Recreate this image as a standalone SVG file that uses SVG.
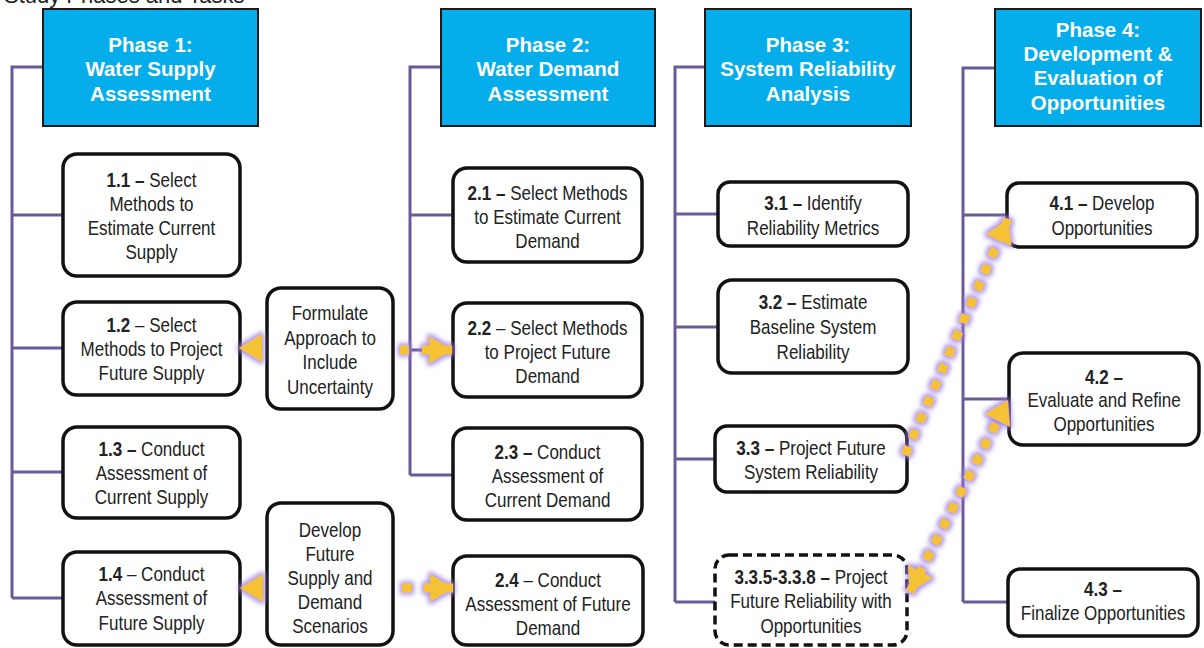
<svg xmlns="http://www.w3.org/2000/svg" width="1204" height="648" viewBox="0 0 1204 648">
<style>
.title{font-family:"Liberation Sans",Arial,sans-serif;font-size:22px;fill:#222}
.hdr rect{fill:#05AEEA;stroke:#1a1a1a;stroke-width:2}
.hdr text{font-family:"Liberation Sans",Arial,sans-serif;font-size:20.5px;font-weight:bold;fill:#fff;text-anchor:middle}
.task rect{fill:#fff;stroke:#111;stroke-width:3.5}
.task rect.dash{stroke-dasharray:9 5}
.task text{font-family:"Liberation Sans",Arial,sans-serif;font-size:20.5px;fill:#222;text-anchor:middle}
.task tspan.b{font-weight:bold}
.conn path{fill:none;stroke:#6A5A9A;stroke-width:3}
.flow path{fill:none;stroke:#F6C235;stroke-width:9;stroke-dasharray:9 9}
</style>
<defs>
<filter id="glow" x="-50%" y="-50%" width="200%" height="200%">
<feMorphology in="SourceAlpha" operator="dilate" radius="2" result="d"/>
<feGaussianBlur in="d" stdDeviation="2.5" result="bl"/>
<feFlood flood-color="#9A7BE0" flood-opacity="0.85"/>
<feComposite in2="bl" operator="in" result="g"/>
<feMerge><feMergeNode in="g"/><feMergeNode in="SourceGraphic"/></feMerge>
</filter>
<marker id="ah" markerUnits="userSpaceOnUse" markerWidth="30" markerHeight="32" viewBox="0 -16 24 32" refX="23" refY="0" orient="auto-start-reverse">
<path d="M0,-14 L23,0 L0,14 Z" fill="#F6C235"/>
</marker>
</defs>
<text class="title" x="4" y="3">Study Phases and Tasks</text>

<g id="connectors" class="conn">
<path d="M43,67 H12 V598 M12,215 H63 M12,348 H63 M12,472 H63 M12,598 H63"/>
<path d="M441,67 H410 V475 M410,215 H453 M410,350 H453 M410,475 H453"/>
<path d="M704,67 H675 V602 M675,214 H718 M675,327 H718 M675,459 H715 M675,602 H715"/>
<path d="M995,68 H963 V602 M963,215 H1007 M963,399 H1009 M963,602 H1008"/>
</g>

<g id="phase1" class="hdr"><rect x="43" y="9" width="215" height="117"/>
<text><tspan x="150.5" y="52">Phase 1:</tspan><tspan x="150.5" y="76">Water Supply</tspan><tspan x="150.5" y="101">Assessment</tspan></text></g>
<g id="phase2" class="hdr"><rect x="441" y="9" width="214" height="117"/>
<text><tspan x="548" y="52">Phase 2:</tspan><tspan x="548" y="76">Water Demand</tspan><tspan x="548" y="101">Assessment</tspan></text></g>
<g id="phase3" class="hdr"><rect x="705" y="9" width="206" height="117"/>
<text><tspan x="808" y="52">Phase 3:</tspan><tspan x="808" y="76">System Reliability</tspan><tspan x="808" y="101">Analysis</tspan></text></g>
<g id="phase4" class="hdr"><rect x="995" y="9" width="206" height="117"/>
<text><tspan x="1098" y="37">Phase 4:</tspan><tspan x="1098" y="61">Development &amp;</tspan><tspan x="1098" y="85">Evaluation of</tspan><tspan x="1098" y="110">Opportunities</tspan></text></g>

<g id="t11" class="task"><rect x="63" y="154" width="177" height="122" rx="14"/>
<text transform="translate(151.5 0) scale(0.83 1)"><tspan x="0" y="187"><tspan class="b">1.1 –</tspan> Select</tspan><tspan x="0" y="211">Methods to</tspan><tspan x="0" y="235">Estimate Current</tspan><tspan x="0" y="259">Supply</tspan></text></g>
<g id="t12" class="task"><rect x="63" y="302" width="177" height="93" rx="14"/>
<text transform="translate(151.5 0) scale(0.83 1)"><tspan x="0" y="332"><tspan class="b">1.2</tspan> – Select</tspan><tspan x="0" y="356">Methods to Project</tspan><tspan x="0" y="380">Future Supply</tspan></text></g>
<g id="t13" class="task"><rect x="63" y="427" width="177" height="91" rx="14"/>
<text transform="translate(151.5 0) scale(0.83 1)"><tspan x="0" y="456"><tspan class="b">1.3 –</tspan> Conduct</tspan><tspan x="0" y="480">Assessment of</tspan><tspan x="0" y="504">Current Supply</tspan></text></g>
<g id="t14" class="task"><rect x="63" y="552" width="177" height="93" rx="14"/>
<text transform="translate(151.5 0) scale(0.83 1)"><tspan x="0" y="581"><tspan class="b">1.4</tspan> – Conduct</tspan><tspan x="0" y="605">Assessment of</tspan><tspan x="0" y="630">Future Supply</tspan></text></g>

<g id="formulate" class="task"><rect x="267" y="288" width="126" height="121" rx="14"/>
<text transform="translate(330 0) scale(0.83 1)"><tspan x="0" y="320">Formulate</tspan><tspan x="0" y="345">Approach to</tspan><tspan x="0" y="369">Include</tspan><tspan x="0" y="394">Uncertainty</tspan></text></g>
<g id="develop" class="task"><rect x="267" y="503" width="126" height="142" rx="14"/>
<text transform="translate(330 0) scale(0.83 1)"><tspan x="0" y="537">Develop</tspan><tspan x="0" y="561">Future</tspan><tspan x="0" y="585">Supply and</tspan><tspan x="0" y="609">Demand</tspan><tspan x="0" y="633">Scenarios</tspan></text></g>

<g id="t21" class="task"><rect x="453" y="168" width="189" height="94" rx="14"/>
<text transform="translate(547.5 0) scale(0.83 1)"><tspan x="0" y="200"><tspan class="b">2.1 –</tspan> Select Methods</tspan><tspan x="0" y="224">to Estimate Current</tspan><tspan x="0" y="248">Demand</tspan></text></g>
<g id="t22" class="task"><rect x="453" y="303" width="189" height="94" rx="14"/>
<text transform="translate(547.5 0) scale(0.83 1)"><tspan x="0" y="335"><tspan class="b">2.2</tspan> – Select Methods</tspan><tspan x="0" y="359">to Project Future</tspan><tspan x="0" y="383">Demand</tspan></text></g>
<g id="t23" class="task"><rect x="453" y="428" width="189" height="92" rx="14"/>
<text transform="translate(547.5 0) scale(0.83 1)"><tspan x="0" y="459"><tspan class="b">2.3 –</tspan> Conduct</tspan><tspan x="0" y="483">Assessment of</tspan><tspan x="0" y="507">Current Demand</tspan></text></g>
<g id="t24" class="task"><rect x="453" y="556" width="190" height="89" rx="14"/>
<text transform="translate(548 0) scale(0.83 1)"><tspan x="0" y="587"><tspan class="b">2.4</tspan> – Conduct</tspan><tspan x="0" y="611">Assessment of Future</tspan><tspan x="0" y="635">Demand</tspan></text></g>

<g id="t31" class="task"><rect x="718" y="182" width="190" height="64" rx="12"/>
<text transform="translate(813 0) scale(0.83 1)"><tspan x="0" y="210"><tspan class="b">3.1 –</tspan> Identify</tspan><tspan x="0" y="235">Reliability Metrics</tspan></text></g>
<g id="t32" class="task"><rect x="718" y="280" width="190" height="93" rx="14"/>
<text transform="translate(813 0) scale(0.83 1)"><tspan x="0" y="309"><tspan class="b">3.2 –</tspan> Estimate</tspan><tspan x="0" y="334">Baseline System</tspan><tspan x="0" y="359">Reliability</tspan></text></g>
<g id="t33" class="task"><rect x="715" y="426" width="192" height="66" rx="12"/>
<text transform="translate(811 0) scale(0.83 1)"><tspan x="0" y="455"><tspan class="b">3.3 –</tspan> Project Future</tspan><tspan x="0" y="479">System Reliability</tspan></text></g>
<g id="t335" class="task"><rect class="dash" x="715" y="555" width="192" height="90" rx="14"/>
<text transform="translate(811 0) scale(0.83 1)"><tspan x="0" y="584"><tspan class="b">3.3.5-3.3.8 –</tspan> Project</tspan><tspan x="0" y="608">Future Reliability with</tspan><tspan x="0" y="633">Opportunities</tspan></text></g>

<g id="t41" class="task"><rect x="1007" y="183" width="190" height="64" rx="12"/>
<text transform="translate(1102 0) scale(0.83 1)"><tspan x="0" y="210"><tspan class="b">4.1 –</tspan> Develop</tspan><tspan x="0" y="235">Opportunities</tspan></text></g>
<g id="t42" class="task"><rect x="1009" y="353" width="190" height="92" rx="14"/>
<text transform="translate(1104 0) scale(0.83 1)"><tspan x="0" y="384"><tspan class="b">4.2 –</tspan></tspan><tspan x="0" y="407">Evaluate and Refine</tspan><tspan x="0" y="431">Opportunities</tspan></text></g>
<g id="t43" class="task"><rect x="1008" y="569" width="190" height="67" rx="12"/>
<text transform="translate(1103 0) scale(0.83 1)"><tspan x="0" y="596"><tspan class="b">4.3 –</tspan></tspan><tspan x="0" y="620">Finalize Opportunities</tspan></text></g>

<g id="flows" class="flow" filter="url(#glow)">
<path d="M266,348 H239" marker-end="url(#ah)" style="stroke-dasharray:0 100"/>
<path d="M400,350 H452" marker-end="url(#ah)" style="stroke-dasharray:9 13"/>
<path d="M266,588 H240" marker-end="url(#ah)" style="stroke-dasharray:0 100"/>
<path d="M402,588 H453" marker-end="url(#ah)" style="stroke-dasharray:10 12"/>
<path d="M905,455 L1008,219" marker-end="url(#ah)"/>
<path d="M910,592 L1008,400" marker-start="url(#ah)" marker-end="url(#ah)"/>
</g>
</svg>
